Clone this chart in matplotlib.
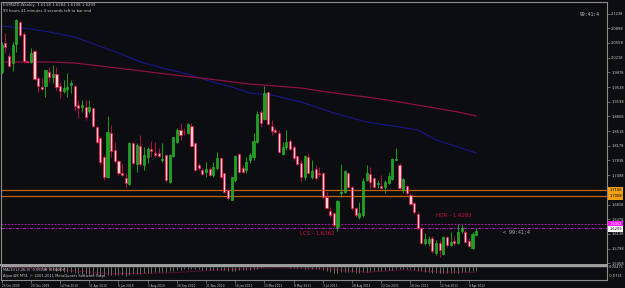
import matplotlib
matplotlib.use('Agg')
import matplotlib.pyplot as plt

# ---------------- data ----------------
opens = [1.9886, 2.0558, 2.0257, 2.0095, 2.0534, 2.1044, 2.0766, 2.0141, 2.0118, 2.0372,
         1.9747, 1.9539, 1.9562, 1.9886, 1.9770, 1.9840, 1.9562, 1.9446, 1.9493, 1.9585,
         1.9562, 1.9122, 1.9076, 1.9076, 1.8983, 1.9053, 1.8613, 1.8358, 1.7918, 1.7455,
         1.8474, 1.8081, 1.7826, 1.7548, 1.7432, 1.7294, 1.8242, 1.7756, 1.8173, 1.7733,
         1.7918, 1.8104, 1.8011, 1.8011, 1.7849, 1.7965, 1.7340, 1.7942, 1.8266, 1.8544,
         1.8497, 1.8474, 1.8636, 1.8242, 1.7733, 1.7618, 1.7571, 1.7641, 1.7502, 1.7664,
         1.7895, 1.7548, 1.7155, 1.6923, 1.7386, 1.7988, 1.7664, 1.7618, 1.7849, 1.7918,
         1.8266, 1.8960, 1.8798, 1.9423, 1.8636, 1.8544, 1.8474, 1.7988, 1.8150, 1.8289,
         1.8150, 1.7942, 1.7780, 1.7455, 1.7918, 1.7455, 1.7641, 1.7548, 1.7548, 1.6993,
         1.6668, 1.6622, 1.6298, 1.7085, 1.7108, 1.7548, 1.7224, 1.6738, 1.6530, 1.6576,
         1.7386, 1.7525, 1.7432, 1.7294, 1.7247, 1.7224, 1.7317, 1.7409, 1.7849, 1.7733,
         1.7155, 1.7247, 1.7039, 1.6854, 1.6599, 1.6275, 1.5928, 1.5928, 1.6043, 1.5696,
         1.5928, 1.5673, 1.6066, 1.5882, 1.5974, 1.5928, 1.6205, 1.6182, 1.5974, 1.5812,
         1.6118]
highs = [2.0581, 2.0789, 2.0326, 2.0581, 2.1113, 2.1067, 2.0812, 2.0164, 2.0442, 2.0395,
         1.9770, 1.9747, 1.9940, 2.0002, 2.0048, 2.0002, 1.9655, 1.9701, 1.9863, 1.9701,
         1.9585, 1.9238, 1.9238, 1.9238, 1.9238, 1.9076, 1.8636, 1.8381, 1.7965, 1.8868,
         1.8659, 1.8266, 1.7849, 1.7780, 1.7548, 1.8266, 1.8266, 1.8242, 1.8428, 1.8150,
         1.8150, 1.8289, 1.8266, 1.8127, 1.8242, 1.7988, 1.7980, 1.8390, 1.8590, 1.8706,
         1.8590, 1.8706, 1.8706, 1.8266, 1.7780, 1.7664, 1.7803, 1.7687, 1.7803, 1.8034,
         1.7918, 1.7550, 1.7178, 1.7460, 1.7965, 1.8011, 1.7733, 1.7918, 1.8011, 1.8474,
         1.8983, 1.9007, 1.9562, 1.9430, 1.8775, 1.8590, 1.8544, 1.8266, 1.8544, 1.8335,
         1.8196, 1.7965, 1.7849, 1.7965, 1.8011, 1.7849, 1.7733, 1.7687, 1.7571, 1.7108,
         1.6761, 1.6645, 1.6923, 1.7756, 1.7618, 1.7571, 1.7247, 1.6761, 1.6877, 1.7432,
         1.7733, 1.7687, 1.7455, 1.7386, 1.7502, 1.7386, 1.7571, 1.7895, 1.8127, 1.7780,
         1.7432, 1.7270, 1.7085, 1.6877, 1.6645, 1.6298, 1.6159, 1.6090, 1.6090, 1.5997,
         1.5997, 1.6090, 1.6090, 1.6182, 1.6090, 1.6367, 1.6344, 1.6229, 1.6043, 1.6182,
         1.6284]
lows = [1.9840, 2.0326, 2.0002, 1.9909, 2.0349, 2.0697, 2.0095, 2.0095, 2.0095, 1.9701,
        1.9423, 1.9470, 1.9307, 1.9655, 1.9632, 1.9470, 1.9284, 1.9400, 1.9307, 1.9400,
        1.9007, 1.8821, 1.8960, 1.8775, 1.8937, 1.8613, 1.8242, 1.7733, 1.7386, 1.7440,
        1.7918, 1.7780, 1.7502, 1.7479, 1.7201, 1.7270, 1.7733, 1.7571, 1.7710, 1.7618,
        1.7780, 1.7918, 1.7918, 1.7918, 1.7803, 1.7340, 1.7317, 1.7918, 1.8242, 1.8312,
        1.8428, 1.8451, 1.8150, 1.7594, 1.7618, 1.7502, 1.7455, 1.7479, 1.7455, 1.7618,
        1.7432, 1.7085, 1.6923, 1.6915, 1.7340, 1.7548, 1.7548, 1.7548, 1.7780, 1.7849,
        1.8242, 1.8613, 1.8775, 1.8659, 1.8428, 1.8474, 1.8011, 1.7965, 1.8081, 1.8081,
        1.7849, 1.7733, 1.7340, 1.7386, 1.7525, 1.7409, 1.7386, 1.7455, 1.6969, 1.6715,
        1.6530, 1.6298, 1.6205, 1.6993, 1.7085, 1.7201, 1.6692, 1.6530, 1.6483, 1.6530,
        1.7363, 1.7201, 1.7201, 1.7201, 1.7178, 1.7085, 1.7294, 1.7386, 1.7849, 1.7155,
        1.7085, 1.7039, 1.6808, 1.6599, 1.6229, 1.5905, 1.5882, 1.5858, 1.5696, 1.5650,
        1.5604, 1.5650, 1.5835, 1.5858, 1.5882, 1.5905, 1.6159, 1.5928, 1.5835, 1.5789,
        1.6108]
closes = [2.0511, 2.0465, 2.0025, 2.0511, 2.1090, 2.0743, 2.0141, 2.0118, 2.0326, 1.9724,
          1.9562, 1.9493, 1.9933, 1.9770, 1.9840, 1.9539, 1.9446, 1.9516, 1.9539, 1.9632,
          1.9099, 1.9053, 1.9122, 1.8845, 1.9076, 1.8636, 1.8266, 1.7803, 1.7455, 1.8497,
          1.8057, 1.7826, 1.7548, 1.7502, 1.7317, 1.8242, 1.7780, 1.8196, 1.7756, 1.7965,
          1.8104, 1.8057, 1.7965, 1.7942, 1.7872, 1.7386, 1.7965, 1.8381, 1.8544, 1.8428,
          1.8490, 1.8682, 1.8173, 1.7618, 1.7664, 1.7525, 1.7641, 1.7502, 1.7687, 1.7895,
          1.7455, 1.7108, 1.6969, 1.7455, 1.7942, 1.7571, 1.7571, 1.7803, 1.7965, 1.8289,
          1.8914, 1.8706, 1.9400, 1.8682, 1.8520, 1.8497, 1.8034, 1.8150, 1.8266, 1.8104,
          1.7895, 1.7756, 1.7455, 1.7942, 1.7548, 1.7594, 1.7432, 1.7525, 1.6993, 1.6738,
          1.6576, 1.6344, 1.6900, 1.7108, 1.7594, 1.7224, 1.6738, 1.6576, 1.6622, 1.7363,
          1.7548, 1.7340, 1.7224, 1.7317, 1.7201, 1.7340, 1.7479, 1.7872, 1.7872, 1.7201,
          1.7409, 1.7085, 1.6831, 1.6645, 1.6275, 1.5928, 1.6020, 1.6020, 1.5742, 1.5928,
          1.5765, 1.6066, 1.5882, 1.5951, 1.5928, 1.6182, 1.6275, 1.5951, 1.5858, 1.6136,
          1.6209]

# moving averages
ma_blue_idx = [0, 8, 13, 20, 26, 32, 38, 44, 51, 56, 63, 68, 74, 82, 91, 100, 109, 114, 119, 125, 130]
ma_blue_val = [2.0951, 2.0882, 2.0812, 2.0696, 2.0511, 2.0326, 2.0118, 1.9979, 1.9840, 1.9701,
               1.9539, 1.9400, 1.9354, 1.9192, 1.8937, 1.8729, 1.8613, 1.8544, 1.8312, 1.8150, 1.8011]
ma_red_idx = [0, 13, 20, 27, 36, 45, 52, 59, 68, 75, 82, 91, 100, 109, 117, 125, 130]
ma_red_val = [2.0118, 2.0118, 2.0095, 2.0025, 1.9933, 1.9840, 1.9770, 1.9701, 1.9608, 1.9562,
              1.9516, 1.9400, 1.9307, 1.9192, 1.9076, 1.8960, 1.8868]

# horizontal levels
orange_levels = [1.7156, 1.7008]
lcs_level = 1.6362
hcr_level = 1.6282
bid_price = 1.6209

# (1.7158 is hidden under the orange level label in the reference)
price_ticks = [1.5458, 1.5798, 1.6138, 1.6478, 1.6818, 1.7498, 1.7838, 1.8178,
               1.8518, 1.8858, 1.9198, 1.9538, 1.9878, 2.0218, 2.0558, 2.0898, 2.1238]

date_idx = [0, 8, 16, 24, 32, 40, 48, 56, 64, 72, 80, 88, 96, 104, 112, 120, 128]
date_labels = ['25 Oct 2009', '20 Dec 2009', '14 Feb 2010', '11 Apr 2010', '6 Jun 2010',
               '1 Aug 2010', '26 Sep 2010', '21 Nov 2010', '16 Jan 2011', '13 Mar 2011',
               '8 May 2011', '3 Jul 2011', '28 Aug 2011', '23 Oct 2011', '18 Dec 2011',
               '12 Feb 2012', '8 Apr 2012']

macd_hist = [0.004, 0.003, 0.002, 0.001, 0.003, 0.004, 0.002, -0.001, -0.003, -0.008, -0.013, -0.018,
             -0.021, -0.024, -0.026, -0.030, -0.034, -0.037, -0.040, -0.042, -0.046, -0.050, -0.053,
             -0.057, -0.059, -0.062, -0.066, -0.070, -0.073, -0.068,
             -0.066, -0.066, -0.067, -0.068, -0.069, -0.062, -0.060, -0.056, -0.054, -0.051, -0.047,
             -0.044, -0.041, -0.039, -0.037, -0.038,
             -0.035, -0.030, -0.025, -0.021, -0.018, -0.014, -0.013, -0.016, -0.018, -0.020, -0.021,
             -0.023, -0.023, -0.021, -0.022,
             -0.026, -0.031, -0.031, -0.028, -0.027, -0.027, -0.025, -0.022, -0.017, -0.011, -0.006,
             -0.001, 0.003, 0.004, 0.003,
             0.001, 0.000, -0.001, -0.002, -0.004, -0.007, -0.010, -0.011, -0.013, -0.014, -0.016,
             -0.018, -0.023, -0.030, -0.037,
             -0.044, -0.045, -0.043, -0.040, -0.040, -0.042, -0.045, -0.047, -0.043, -0.037, -0.033,
             -0.031, -0.029, -0.028, -0.026,
             -0.023, -0.019, -0.015, -0.015, -0.014, -0.015, -0.018, -0.022, -0.028, -0.035, -0.039,
             -0.043, -0.047, -0.049, -0.051,
             -0.050, -0.050, -0.049, -0.048, -0.045, -0.041, -0.039, -0.038, -0.035, -0.032]
signal_idx = [0, 15, 30, 45, 60, 75, 90, 100, 110, 120, 130]
signal_val = [0.002, -0.015, -0.055, -0.048, -0.022, -0.005, -0.015, -0.042, -0.022, -0.040, -0.042]
macd_ticks = [0.00471, -0.0731]

# ---------------- layout ----------------
W, H = 625, 288
bg = '#0c0d11'
fg = '#c8c8c8'
frame = '#8c8c8c'


def fx(px):
    return px / W


def fy(py):
    return 1 - py / H


fig = plt.figure(figsize=(W / 100, H / 100), dpi=100, facecolor=bg)
ax = fig.add_axes([fx(1), fy(265), fx(607) - fx(1), fy(2) - fy(265)])
ax2 = fig.add_axes([fx(1), fy(280), fx(607) - fx(1), fy(266) - fy(280)])
xlim = (-0.19, 165.84)
for a in (ax, ax2):
    a.set_facecolor(bg)
    a.set_xlim(*xlim)
    for s in a.spines.values():
        s.set_color(frame)
        s.set_linewidth(0.8)
ax.set_ylim(1.5418, 2.1507)
ax2.set_ylim(-0.1067, 0.0106)
ax.spines['bottom'].set_color('#a0a0a0')
ax.spines['bottom'].set_linewidth(1.4)
ax2.spines['top'].set_color('#a0a0a0')
ax2.spines['top'].set_linewidth(1.0)

# ---------------- candles ----------------
idx = list(range(len(opens)))
bull = [c >= o for o, c in zip(opens, closes)]
bx = [i for i, b in zip(idx, bull) if b]
sx = [i for i, b in zip(idx, bull) if not b]
ax.vlines(bx, [lows[i] for i in bx], [highs[i] for i in bx], color='#1aa01a', lw=0.7, zorder=2)
ax.vlines(sx, [lows[i] for i in sx], [highs[i] for i in sx], color='#b0104a', lw=0.7, zorder=2)
ax.bar(bx, [max(closes[i] - opens[i], 0.0012) for i in bx], bottom=[opens[i] for i in bx],
       width=0.58, color='#20a020', edgecolor='#30c030', lw=0.4, zorder=3)
ax.bar(sx, [max(opens[i] - closes[i], 0.0012) for i in sx], bottom=[closes[i] for i in sx],
       width=0.58, color='#ffcad2', edgecolor='#e8103c', lw=0.5, zorder=3)

# moving averages
ax.plot(ma_blue_idx, ma_blue_val, color='#16168e', lw=0.8, zorder=1)
ax.plot(ma_red_idx, ma_red_val, color='#8e1040', lw=0.9, zorder=1)

# horizontal levels
for lv in orange_levels:
    ax.axhline(lv, color='#c06010', lw=0.9, zorder=1)
ax.axhline(lcs_level, color='#c010c0', lw=0.8, ls=(0, (1.5, 1.5)), zorder=1)
ax.axhline(hcr_level, color='#b020c0', lw=0.8, ls=(0, (3, 1.2, 1, 1.2)), zorder=1)

ax.text(119, 1.6553, 'HCR - 1.6282', color='#d0103c', fontsize=3.9, ha='left', va='center')
ax.text(81.7, 1.6136, 'LCS - 1.6362', color='#d0103c', fontsize=3.9, ha='left', va='center')
ax.text(137.3, 1.6182, '< 99:41:4', color='#b0b0b0', fontsize=3.6, ha='left', va='center',
        family='DejaVu Sans Mono')

# right price axis
ax.yaxis.tick_right()
ax.set_yticks(price_ticks)
ax.set_yticklabels(['%.4f' % p for p in price_ticks])
ax.tick_params(axis='y', length=2, width=0.5, color=frame, pad=1, labelsize=2.6, labelcolor=fg)
ax.tick_params(axis='x', bottom=False, labelbottom=False)

ytr = ax.get_yaxis_transform()
for lv, lab in zip(orange_levels, ['1.7156', '1.7008']):
    ax.text(1.004, lv, lab, transform=ytr, fontsize=2.6, color='black', ha='left', va='center',
            bbox=dict(boxstyle='square,pad=0.35', fc='#f0a010', ec='none'), clip_on=False, zorder=6)
ax.text(1.004, lcs_level, '%.4f' % lcs_level, transform=ytr, fontsize=2.6, color='white',
        ha='left', va='center', bbox=dict(boxstyle='square,pad=0.35', fc='#ff10ff', ec='none'),
        clip_on=False, zorder=6)
ax.text(1.004, bid_price + 0.0045, '%.4f' % bid_price, transform=ytr, fontsize=2.6, color='black',
        ha='left', va='center', bbox=dict(boxstyle='square,pad=0.35', fc='white', ec='none'),
        clip_on=False, zorder=6)

# ---------------- MACD sub window ----------------
ax2.vlines(idx, 0, macd_hist, color='#a8a090', lw=0.45)
ax2.plot(signal_idx, signal_val, color='#b01050', lw=0.6, ls=(0, (1, 1)))
ax2.yaxis.tick_right()
ax2.set_yticks(macd_ticks)
ax2.set_yticklabels(['0.00471', '-0.0731'])
ax2.tick_params(axis='y', length=0, pad=1, labelsize=2.6, labelcolor=fg)
ax2.set_xticks(date_idx)
ax2.set_xticklabels(date_labels)
ax2.tick_params(axis='x', length=2, width=0.5, color=frame, pad=1, labelsize=2.1, labelcolor=fg)
for lbl in ax2.get_xticklabels():
    lbl.set_ha('left')
ax2.text(0.004, 0.73, 'MACD(12,26,9) -0.03248 -0.04207', transform=ax2.transAxes, fontsize=2.6,
         color=fg, ha='left', va='center')
ax2.text(0.004, 0.3, 'AlpariUK MT4, \u00a9 2001-2011 MetaQuotes Software Corp.',
         transform=ax2.transAxes, fontsize=2.6, color=fg, ha='left', va='center')

# ---------------- header texts ----------------
fig.text(fx(3), fy(5), 'EURNZD,Weekly  1.6118 1.6284 1.6108 1.6209', fontsize=2.8, color=fg,
         ha='left', va='center')
fig.text(fx(3), fy(10.5), '99 hours 41 minutes 4 seconds left to bar end', fontsize=2.7, color=fg,
         ha='left', va='center')
fig.text(fx(580), fy(14), '99:41:4', fontsize=3.4, color=fg, ha='left', va='center',
         family='DejaVu Sans Mono')

fig.savefig('out.png', dpi=100, facecolor=bg)
